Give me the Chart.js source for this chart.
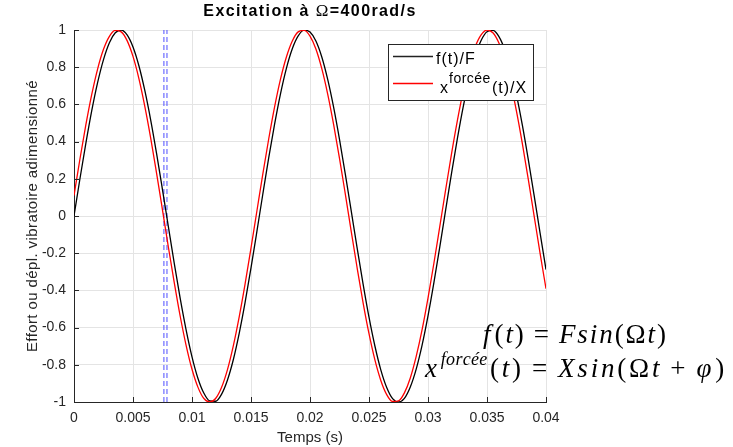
<!DOCTYPE html>
<html><head><meta charset="utf-8">
<script src="https://cdn.jsdelivr.net/npm/chart.js@4/dist/chart.umd.min.js"></script>
<style>html,body{margin:0;padding:0;background:#fff}#wrap{width:733px;height:447px;position:relative}</style>
</head><body><div id="wrap"><canvas id="c" width="733" height="447"></canvas></div>
<script>
const titleText = ["Excitation à ", "Ω", "=400rad/s"];
const xAxisTitle = "Temps (s)";
const yAxisTitle = "Effort ou dépl. vibratoire adimensionné";
const seriesNames = ["f(t)/F", "x", "forcée", "(t)/X"];
const xTicks = [0, 0.005, 0.01, 0.015, 0.02, 0.025, 0.03, 0.035, 0.04];
const xTickLabels = ["0", "0.005", "0.01", "0.015", "0.02", "0.025", "0.03", "0.035", "0.04"];
const yTicks = [-1, -0.8, -0.6, -0.4, -0.2, 0, 0.2, 0.4, 0.6, 0.8, 1];
const yTickLabels = ["-1", "-0.8", "-0.6", "-0.4", "-0.2", "0", "0.2", "0.4", "0.6", "0.8", "1"];
const times = [0,0.0005,0.001,0.0015,0.002,0.0025,0.003,0.0035,0.004,0.0045,0.005,0.0055,0.006,0.0065,0.007,0.0075,0.008,0.0085,0.009,0.0095,
0.01,0.0105,0.011,0.0115,0.012,0.0125,0.013,0.0135,0.014,0.0145,0.015,0.0155,0.016,0.0165,0.017,0.0175,0.018,0.0185,0.019,0.0195,
0.02,0.0205,0.021,0.0215,0.022,0.0225,0.023,0.0235,0.024,0.0245,0.025,0.0255,0.026,0.0265,0.027,0.0275,0.028,0.0285,0.029,0.0295,
0.03,0.0305,0.031,0.0315,0.032,0.0325,0.033,0.0335,0.034,0.0345,0.035,0.0355,0.036,0.0365,0.037,0.0375,0.038,0.0385,0.039,0.0395,0.04];
const forceValues = [0,0.199,0.389,0.565,0.717,0.841,0.932,0.985,1.000,0.974,0.909,0.808,0.675,0.516,0.335,0.141,-0.058,-0.256,-0.443,-0.612,
-0.757,-0.872,-0.952,-0.994,-0.996,-0.959,-0.883,-0.773,-0.631,-0.465,-0.279,-0.083,0.117,0.312,0.494,0.657,0.794,0.899,0.968,0.999,
0.989,0.941,0.855,0.734,0.585,0.412,0.223,0.025,-0.174,-0.366,-0.544,-0.699,-0.827,-0.922,-0.982,-1.000,-0.980,-0.919,-0.823,-0.694,
-0.537,-0.358,-0.166,0.034,0.232,0.420,0.592,0.740,0.859,0.944,0.991,0.998,0.966,0.895,0.788,0.650,0.487,0.303,0.108,-0.092,-0.288];
const forcedValues = [0.110,0.305,0.488,0.652,0.790,0.896,0.966,0.998,0.990,0.943,0.858,0.739,0.590,0.419,0.229,0.032,-0.168,-0.360,-0.539,-0.695,
-0.824,-0.920,-0.981,-1.000,-0.981,-0.922,-0.827,-0.698,-0.542,-0.365,-0.172,0.027,0.225,0.414,0.587,0.736,0.855,0.941,0.990,0.998,
0.967,0.898,0.792,0.655,0.492,0.310,0.115,-0.085,-0.281,-0.467,-0.633,-0.774,-0.884,-0.960,-0.997,-0.994,-0.951,-0.871,-0.755,-0.611,
-0.441,-0.254,-0.056,0.143,0.337,0.517,0.677,0.810,0.910,0.974,1.000,0.985,0.931,0.840,0.716,0.563,0.388,0.197,-0.002,-0.201,-0.391];
const zeroCrossTimes = [0.00762, 0.00788];
const markerRange = [-1, 1];

const SANS = '"Liberation Sans", Arial, sans-serif';
const SERIF = '"Liberation Serif", "Times New Roman", serif';
const DARK = '#262626';

const datasets = [];
zeroCrossTimes.forEach(t => datasets.push({
  data: markerRange.map(v => ({x: t, y: v})), borderColor: '#4f4fff', borderWidth: 1,
  borderDash: [5, 3], pointRadius: 0, tension: 0, order: 3
}));
datasets.push({data: times.map((t, i) => ({x: t, y: forceValues[i]})), borderColor: '#000000', borderWidth: 1.3,
  pointRadius: 0, cubicInterpolationMode: 'monotone', order: 2});
datasets.push({data: times.map((t, i) => ({x: t, y: forcedValues[i]})), borderColor: '#ff0000', borderWidth: 1.3,
  pointRadius: 0, cubicInterpolationMode: 'monotone', order: 1});

const EQ_SIZE = 27, SUP_SIZE = 18, SUP_RAISE = 12, SUP_LS = 0.3;
function segFont(s) { return (s.i ? 'italic ' : '') + (s.sup ? SUP_SIZE : EQ_SIZE) + 'px ' + SERIF; }
function segLs(s, ls) { return s.sup ? SUP_LS : ls; }
function measureSegs(ctx, segs, ls) {
  let w = 0;
  segs.forEach(s => { ctx.font = segFont(s); w += ctx.measureText(s.t).width + segLs(s, ls) * s.t.length + (s.gap || 0); });
  return w;
}
function drawSegs(ctx, segs, x, y, ls) {
  let cx = x;
  segs.forEach(s => {
    ctx.font = segFont(s);
    const l = segLs(s, ls);
    let px = cx;
    for (const ch of s.t) { ctx.fillText(ch, px, y - (s.sup ? SUP_RAISE : 0)); px += ctx.measureText(ch).width + l; }
    cx += ctx.measureText(s.t).width + l * s.t.length + (s.gap || 0);
  });
}
function fitLs(ctx, segs, width) {
  let n = 0; segs.forEach(s => { if (!s.sup) n += s.t.length; });
  return (width - measureSegs(ctx, segs, 0)) / n;
}

const overlay = {
  id: 'overlay',
  afterDraw(chart) {
    const ctx = chart.ctx, a = chart.chartArea, xs = chart.scales.x, ys = chart.scales.y;
    ctx.save();
    // inward ticks
    ctx.strokeStyle = DARK; ctx.lineWidth = 1;
    ctx.beginPath();
    xTicks.forEach(v => { const px = Math.round(xs.getPixelForValue(v)) + 0.5; ctx.moveTo(px, a.bottom); ctx.lineTo(px, a.bottom - 5); });
    yTicks.forEach(v => { const py = Math.round(ys.getPixelForValue(v)) + 0.5; ctx.moveTo(a.left, py); ctx.lineTo(a.left + 5, py); });
    ctx.stroke();
    // title
    ctx.fillStyle = '#000'; ctx.textBaseline = 'alphabetic';
    ctx.letterSpacing = '1.4px';
    const tf = ['bold 16px ' + SANS, '17px ' + SERIF, 'bold 16px ' + SANS];
    let tw = 0; titleText.forEach((t, i) => { ctx.font = tf[i]; tw += ctx.measureText(t).width; });
    let tx = (a.left + a.right) / 2 - tw / 2;
    titleText.forEach((t, i) => { ctx.font = tf[i]; ctx.fillText(t, tx, 16); tx += ctx.measureText(t).width; });
    // axis titles
    ctx.letterSpacing = '0px';
    ctx.fillStyle = '#262626'; ctx.font = '15px ' + SANS; ctx.textAlign = 'center';
    ctx.fillText(xAxisTitle, (a.left + a.right) / 2, 442);
    ctx.letterSpacing = '0.4px';
    ctx.save(); ctx.translate(37, (a.top + a.bottom) / 2); ctx.rotate(-Math.PI / 2);
    ctx.fillText(yAxisTitle, 0, 0); ctx.restore();
    ctx.textAlign = 'left';
    // legend
    ctx.letterSpacing = '0px';
    ctx.fillStyle = '#fff'; ctx.fillRect(388, 44, 145, 57);
    ctx.strokeStyle = DARK; ctx.lineWidth = 1; ctx.strokeRect(388.5, 44.5, 145, 56);
    ctx.lineWidth = 1.3;
    ctx.strokeStyle = '#222'; ctx.beginPath(); ctx.moveTo(393, 56.5); ctx.lineTo(433, 56.5); ctx.stroke();
    ctx.strokeStyle = '#f00'; ctx.beginPath(); ctx.moveTo(393, 83.5); ctx.lineTo(433, 83.5); ctx.stroke();
    ctx.fillStyle = '#000';
    ctx.letterSpacing = '1px';
    ctx.font = '16px ' + SANS; ctx.fillText(seriesNames[0], 436, 64);
    ctx.fillText(seriesNames[1], 440, 93);
    let lx = 440 + ctx.measureText(seriesNames[1]).width;
    ctx.letterSpacing = '0.5px';
    ctx.font = '14px ' + SANS; ctx.fillText(seriesNames[2], lx, 83);
    lx += ctx.measureText(seriesNames[2]).width + 1;
    ctx.letterSpacing = '1px';
    ctx.font = '16px ' + SANS; ctx.fillText(seriesNames[3], lx, 93);
    ctx.letterSpacing = '0px';
    // equations
    const OP = 8;
    const eq1 = [{t:'f',i:1,gap:2},{t:'('},{t:'t',i:1},{t:')',gap:OP},{t:'=',gap:OP},{t:'Fsin',i:1},{t:'(Ω'},{t:'t',i:1},{t:')'}];
    const eq2 = [{t:'x',i:1,gap:1},{t:'forcée',i:1,sup:1,gap:3},{t:'('},{t:'t',i:1},{t:')',gap:OP},{t:'=',gap:OP},{t:'Xsin',i:1},{t:'(Ω'},{t:'t',i:1,gap:OP},{t:'+',gap:OP},{t:'φ',i:1,gap:1},{t:')'}];
    const ls2 = fitLs(ctx, eq2, 302);
    const ls1 = fitLs(ctx, eq1, 185);
    ctx.fillStyle = '#000';
    drawSegs(ctx, eq1, 483, 343, ls1);
    drawSegs(ctx, eq2, 425, 377, ls2);
    ctx.restore();
  }
};

new Chart(document.getElementById('c'), {
  type: 'line',
  data: {datasets},
  options: {
    responsive: false, animation: false, devicePixelRatio: 1,
    layout: {padding: {top: 30, right: 187, left: 0, bottom: 0}},
    plugins: {legend: {display: false}, title: {display: false}, tooltip: {enabled: false}},
    scales: {
      x: {
        type: 'linear', min: 0, max: 0.04,
        afterBuildTicks: s => { s.ticks = xTicks.map(v => ({value: v})); },
        afterFit: s => { s.height = 45; },
        grid: {color: '#e4e4e4', drawTicks: false},
        border: {display: true, color: DARK, width: 1},
        ticks: {padding: 8, color: '#262626', font: {family: SANS, size: 14}, maxRotation: 0, autoSkip: false,
          callback: (v) => { const i = xTicks.findIndex(t => Math.abs(t - v) < 1e-9); return i >= 0 ? xTickLabels[i] : ''; }}
      },
      y: {
        type: 'linear', min: -1, max: 1,
        afterBuildTicks: s => { s.ticks = yTicks.map(v => ({value: v})); },
        afterFit: s => { s.width = 74; },
        grid: {color: '#e4e4e4', drawTicks: false},
        border: {display: true, color: DARK, width: 1},
        ticks: {padding: 8, color: '#262626', font: {family: SANS, size: 14}, autoSkip: false,
          callback: (v) => { const i = yTicks.findIndex(t => Math.abs(t - v) < 1e-9); return i >= 0 ? yTickLabels[i] : ''; }}
      }
    }
  },
  plugins: [overlay]
});
</script></body></html>
